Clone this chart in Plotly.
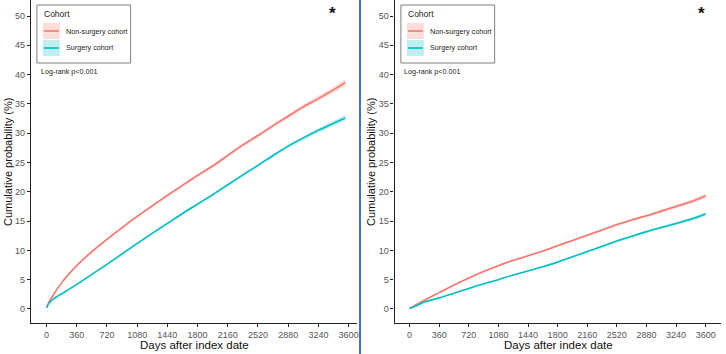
import plotly.graph_objects as go

W, H = 726, 354

# ---------------- data ----------------
left_days = [0, 30, 90, 180, 360, 540, 720, 900, 1080, 1260, 1440, 1620, 1800, 1980,
             2160, 2340, 2520, 2700, 2880, 3060, 3240, 3420, 3560]
left_nonsurg = [0.3, 1.2, 2.6, 4.5, 7.4, 9.8, 11.9, 13.9, 15.8, 17.6, 19.4, 21.1, 22.8, 24.4,
                26.2, 28.0, 29.6, 31.3, 32.9, 34.5, 35.9, 37.4, 38.6]
left_surg = [0.2, 1.0, 1.8, 2.6, 4.2, 5.9, 7.6, 9.4, 11.2, 12.9, 14.6, 16.3, 17.9, 19.5,
             21.2, 22.9, 24.5, 26.2, 27.8, 29.2, 30.5, 31.7, 32.6]
left_nonsurg_ci = [0.05, 0.08, 0.1, 0.12, 0.15, 0.17, 0.19, 0.2, 0.22, 0.23, 0.24, 0.25, 0.26, 0.27,
                   0.28, 0.3, 0.31, 0.33, 0.35, 0.38, 0.42, 0.5, 0.6]
left_surg_ci = [0.05, 0.07, 0.08, 0.1, 0.12, 0.13, 0.15, 0.16, 0.17, 0.18, 0.19, 0.2, 0.21, 0.22,
                0.23, 0.24, 0.25, 0.27, 0.29, 0.32, 0.36, 0.42, 0.5]

right_days = [0, 90, 180, 360, 540, 720, 900, 1080, 1260, 1440, 1620, 1800, 1980, 2160,
              2340, 2520, 2700, 2880, 3060, 3240, 3420, 3600]
right_nonsurg = [0.1, 0.8, 1.5, 2.8, 4.1, 5.3, 6.4, 7.4, 8.3, 9.1, 9.9, 10.8, 11.7, 12.6,
                 13.5, 14.4, 15.2, 15.9, 16.7, 17.5, 18.3, 19.3]
right_surg = [0.1, 0.6, 1.2, 1.9, 2.7, 3.5, 4.3, 5.0, 5.8, 6.5, 7.2, 8.0, 8.9, 9.8,
              10.7, 11.6, 12.4, 13.2, 13.9, 14.6, 15.3, 16.2]
right_nonsurg_ci = [0.03, 0.05, 0.06, 0.08, 0.1, 0.11, 0.12, 0.13, 0.14, 0.15, 0.16, 0.17, 0.18,
                    0.19, 0.2, 0.21, 0.22, 0.24, 0.26, 0.29, 0.34, 0.42]
right_surg_ci = [0.03, 0.04, 0.05, 0.07, 0.08, 0.09, 0.1, 0.11, 0.12, 0.13, 0.14, 0.15, 0.16,
                 0.17, 0.18, 0.19, 0.2, 0.21, 0.23, 0.26, 0.3, 0.36]

x_ticks = [0, 360, 720, 1080, 1440, 1800, 2160, 2520, 2880, 3240, 3600]
y_ticks = [0, 5, 10, 15, 20, 25, 30, 35, 40, 45, 50]
cohorts = ["Non-surgery cohort", "Surgery cohort"]
x_title = "Days after index date"
y_title = "Cumulative probability (%)"
pval_text = "Log-rank p<0.001"

# ---------------- style ----------------
PINK = "#F8766D"
TEAL = "#00BFC4"
PINK_F = "rgba(248,118,109,0.25)"
TEAL_F = "rgba(0,191,196,0.25)"
FONT = "Arial, Liberation Sans, sans-serif"


def px(x):
    return x / W


def py(y):
    return (H - y) / H


fig = go.Figure()


def add_curve(days, vals, ci, color, fill, xa, ya):
    lo = [v - c for v, c in zip(vals, ci)]
    hi = [v + c for v, c in zip(vals, ci)]
    fig.add_trace(go.Scatter(x=days, y=lo, mode="lines", line=dict(width=0, color=fill),
                             xaxis=xa, yaxis=ya, showlegend=False, hoverinfo="skip"))
    fig.add_trace(go.Scatter(x=days, y=hi, mode="lines", line=dict(width=0, color=fill),
                             fill="tonexty", fillcolor=fill,
                             xaxis=xa, yaxis=ya, showlegend=False, hoverinfo="skip"))
    fig.add_trace(go.Scatter(x=days, y=vals, mode="lines",
                             line=dict(width=1.6, color=color, shape="spline", smoothing=0.6),
                             xaxis=xa, yaxis=ya, showlegend=False))


add_curve(left_days, left_nonsurg, left_nonsurg_ci, PINK, PINK_F, "x", "y")
add_curve(left_days, left_surg, left_surg_ci, TEAL, TEAL_F, "x", "y")
add_curve(right_days, right_nonsurg, right_nonsurg_ci, PINK, PINK_F, "x2", "y2")
add_curve(right_days, right_surg, right_surg_ci, TEAL, TEAL_F, "x2", "y2")

axis_common = dict(showline=True, linecolor="#222222", linewidth=1.3, ticks="outside",
                   ticklen=3, tickcolor="#222222", tickwidth=1,
                   tickfont=dict(family=FONT, size=9, color="#555555"),
                   showgrid=False, zeroline=False)

ylo, yhi = -2.39, 52.73
fig.update_layout(
    width=W, height=H, margin=dict(l=0, r=0, t=0, b=0),
    paper_bgcolor="white", plot_bgcolor="white", showlegend=False,
    xaxis=dict(domain=[px(31), px(358)], range=[-186, 3700], tickvals=x_ticks,
               anchor="y", **axis_common),
    yaxis=dict(domain=[py(323), 1.0], range=[ylo, yhi], tickvals=y_ticks,
               anchor="x", **axis_common),
    xaxis2=dict(domain=[px(395.7), px(723)], range=[-182, 3786], tickvals=x_ticks,
                anchor="y2", **axis_common),
    yaxis2=dict(domain=[py(323), 1.0], range=[ylo, yhi], tickvals=y_ticks,
                anchor="x2", **axis_common),
)

shapes = []
annots = []

# separator line
shapes.append(dict(type="line", xref="paper", yref="paper", x0=px(361), x1=px(361),
                   y0=0, y1=1, line=dict(color="#4472C4", width=2)))


def legend_block(bx0, bx1, keyx, textx, lrx):
    shapes.append(dict(type="rect", xref="paper", yref="paper", x0=px(bx0), x1=px(bx1),
                       y0=py(63), y1=py(5), line=dict(color="#7F7F7F", width=1),
                       fillcolor="white", layer="above"))
    annots.append(dict(text="Cohort", xref="paper", yref="paper", x=px(keyx - 1), y=py(14),
                       xanchor="left", yanchor="middle", showarrow=False,
                       font=dict(family=FONT, size=8.5, color="#222222")))
    for name, col, fcol, yc in [(cohorts[0], PINK, PINK_F, 31), (cohorts[1], TEAL, TEAL_F, 48)]:
        shapes.append(dict(type="rect", xref="paper", yref="paper", x0=px(keyx), x1=px(keyx + 17),
                           y0=py(yc + 8), y1=py(yc - 8), line=dict(width=0),
                           fillcolor=fcol, layer="above"))
        shapes.append(dict(type="line", xref="paper", yref="paper", x0=px(keyx + 1),
                           x1=px(keyx + 16), y0=py(yc), y1=py(yc),
                           line=dict(color=col, width=1.6), layer="above"))
        annots.append(dict(text=name, xref="paper", yref="paper", x=px(textx), y=py(yc),
                           xanchor="left", yanchor="middle", showarrow=False,
                           font=dict(family=FONT, size=7.2, color="#222222")))
    annots.append(dict(text=pval_text, xref="paper", yref="paper", x=px(lrx), y=py(71),
                       xanchor="left", yanchor="middle", showarrow=False,
                       font=dict(family=FONT, size=7.2, color="#222222")))


legend_block(37, 131, 43, 64, 39)
legend_block(402, 496, 408, 429, 403)

# asterisks
for ax in [333, 703]:
    annots.append(dict(text="<b>*</b>", xref="paper", yref="paper", x=px(ax), y=py(13),
                       xanchor="center", yanchor="middle", showarrow=False,
                       font=dict(family=FONT, size=17, color="#111111")))

# axis titles
for cx in [195, 560]:
    annots.append(dict(text=x_title, xref="paper", yref="paper", x=px(cx), y=py(345),
                       xanchor="center", yanchor="middle", showarrow=False,
                       font=dict(family=FONT, size=11.5, color="#111111")))
for cx in [8, 372]:
    annots.append(dict(text=y_title, xref="paper", yref="paper", x=px(cx), y=py(162),
                       xanchor="center", yanchor="middle", showarrow=False, textangle=-90,
                       font=dict(family=FONT, size=11, color="#111111")))

fig.update_layout(shapes=shapes, annotations=annots)
fig.write_html("out.html", config={"displayModeBar": False},
               post_script="document.body.style.margin='0';")
